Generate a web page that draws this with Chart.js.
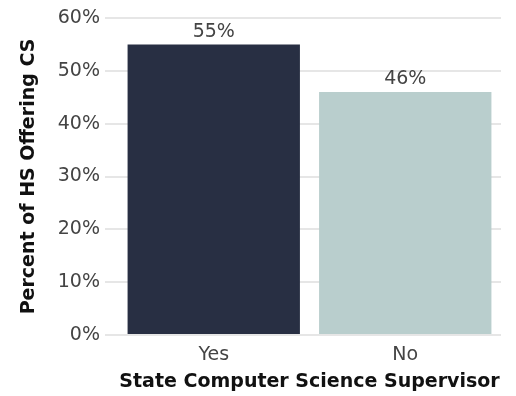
<!DOCTYPE html>
<html>
<head>
<meta charset="utf-8">
<script src="https://cdn.jsdelivr.net/npm/chart.js@4"></script>
<style>
  html, body { margin: 0; padding: 0; background: #fff; }
  #wrap { width: 516px; height: 396px; position: relative; }
</style>
</head>
<body>
<div id="wrap"><canvas id="chart"></canvas></div>
<script>
// chart data
const categories = ["Yes", "No"];
const percentValues = [55, 46];
const barColors = ["#282f43", "#b9cecd"];
const yTicks = [0, 10, 20, 30, 40, 50, 60];

const FONT = "'DejaVu Sans', sans-serif";

// draws the value labels above the bars
const valueLabels = {
  id: 'valueLabels',
  afterDatasetsDraw(chart) {
    const ctx = chart.ctx;
    const meta = chart.getDatasetMeta(0);
    ctx.save();
    ctx.font = "19px " + FONT;
    ctx.fillStyle = "#444";
    ctx.textAlign = "center";
    ctx.textBaseline = "bottom";
    meta.data.forEach((bar, i) => {
      ctx.fillText(percentValues[i] + "%", bar.x, bar.y - 3);
    });
    ctx.restore();
  }
};

new Chart(document.getElementById('chart'), {
  type: 'bar',
  data: {
    labels: categories,
    datasets: [{
      data: percentValues,
      backgroundColor: barColors,
      barPercentage: 0.9,
      categoryPercentage: 1.0
    }]
  },
  options: {
    responsive: true,
    maintainAspectRatio: false,
    animation: false,
    layout: { padding: { top: 18, right: 15, left: 0, bottom: 0 } },
    plugins: {
      legend: { display: false },
      tooltip: { enabled: false }
    },
    scales: {
      x: {
        grid: { display: false, drawTicks: false },
        border: { display: false },
        ticks: { color: "#444", font: { family: FONT, size: 19 }, padding: 9 },
        title: {
          display: true,
          text: "State Computer Science Supervisor",
          color: "#111",
          font: { family: FONT, size: 19, weight: 'bold' },
          padding: { top: 0, bottom: 3 }
        },
        afterFit(scale) { scale.height = 61; }
      },
      y: {
        min: 0,
        max: 60,
        afterBuildTicks(scale) { scale.ticks = yTicks.map(v => ({ value: v })); },
        grid: { color: "#e6e6e6", lineWidth: 2, tickLength: 13, tickColor: "#e6e6e6" },
        border: { display: false },
        ticks: {
          color: "#444",
          font: { family: FONT, size: 19 },
          padding: 5,
          callback: v => v + "%"
        },
        title: {
          display: true,
          text: "Percent of HS Offering CS",
          color: "#111",
          font: { family: FONT, size: 19, weight: 'bold' },
          padding: { top: 18, bottom: 0 }
        },
        afterFit(scale) { scale.width = 118; }
      }
    }
  },
  plugins: [valueLabels]
});
</script>
</body>
</html>
